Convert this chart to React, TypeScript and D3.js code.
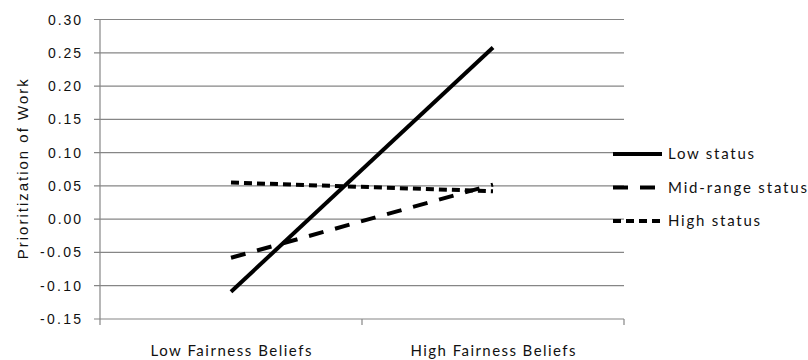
import React from "react";
import * as d3 from "d3";

const categories = ["Low Fairness Beliefs", "High Fairness Beliefs"];
const seriesNames = ["Low status", "Mid-range status", "High status"];
const lowStatus = [-0.109, 0.258];
const midStatus = [-0.058, 0.052];
const highStatus = [0.055, 0.042];
const yTicks = [-0.15, -0.1, -0.05, 0, 0.05, 0.1, 0.15, 0.2, 0.25, 0.3];

const W = 808;
const H = 360;
const left = 100;
const right = 624;
const top = 19.5;
const bottom = 319;

const dashes = ["none", "15 12", "8 5"];
const labelFont = "Lato, 'Open Sans', sans-serif";
const numFont = "'Liberation Sans', Arial, sans-serif";

// widths of the wide-tracked labels
const categoryWidths = [161, 165];
const legendWidths = [86, 139, 92];

export default function App() {
  const x = d3.scaleBand().domain(categories).range([left, right]);
  const y = d3.scaleLinear().domain([-0.15, 0.3]).range([bottom, top]);
  const cx = (c: string) => (x(c) as number) + x.bandwidth() / 2;
  const line = d3
    .line<number>()
    .x((_, i) => cx(categories[i]))
    .y((d) => y(d));
  const series = [lowStatus, midStatus, highStatus];
  const legendY = [154, 187.5, 221];

  return (
    <svg
      width={W}
      height={H}
      style={{ position: "absolute", left: 0, top: 0, background: "#fff" }}
    >
      {/* horizontal gridlines and y tick labels */}
      {yTicks.map((t) => {
        const label = t.toFixed(2);
        return (
          <g key={t}>
            <line x1={left - 6} x2={right} y1={y(t)} y2={y(t)} stroke="#868686" strokeWidth={1.2} />
            <text
              x={81}
              y={y(t)}
              dy="0.36em"
              textAnchor="end"
              fontFamily={numFont}
              fontSize={14}
              textLength={label.startsWith("-") ? 41 : 33}
              lengthAdjust="spacing"
              fill="#111"
            >
              {label}
            </text>
          </g>
        );
      })}
      {/* y axis */}
      <line x1={left} x2={left} y1={top} y2={bottom} stroke="#868686" strokeWidth={1.2} />
      {/* x axis ticks */}
      {[left, (left + right) / 2, right].map((v) => (
        <line key={v} x1={v} x2={v} y1={bottom} y2={bottom + 6} stroke="#868686" strokeWidth={1.2} />
      ))}
      {categories.map((c, i) => (
        <text
          key={c}
          x={cx(c) - categoryWidths[i] / 2}
          y={356}
          fontFamily={labelFont}
          fontSize={15}
          textLength={categoryWidths[i]}
          lengthAdjust="spacing"
          fill="#111"
        >
          {c}
        </text>
      ))}
      <text
        transform={`translate(28,${(top + bottom) / 2 + 90}) rotate(-90)`}
        fontFamily={numFont}
        fontSize={15}
        textLength={180}
        lengthAdjust="spacing"
        fill="#111"
      >
        Prioritization of Work
      </text>
      {/* series */}
      {series.map((s, i) => (
        <path
          key={seriesNames[i]}
          d={line(s) || ""}
          fill="none"
          stroke="#000"
          strokeWidth={4}
          strokeDasharray={dashes[i]}
        />
      ))}
      {/* legend */}
      {seriesNames.map((n, i) => (
        <g key={n}>
          <line x1={613} x2={662} y1={legendY[i]} y2={legendY[i]} stroke="#000" strokeWidth={4} strokeDasharray={dashes[i]} />
          <text
            x={668}
            y={legendY[i]}
            dy="0.35em"
            fontFamily={labelFont}
            fontSize={15}
            textLength={legendWidths[i]}
            lengthAdjust="spacing"
            fill="#111"
          >
            {n}
          </text>
        </g>
      ))}
    </svg>
  );
}
